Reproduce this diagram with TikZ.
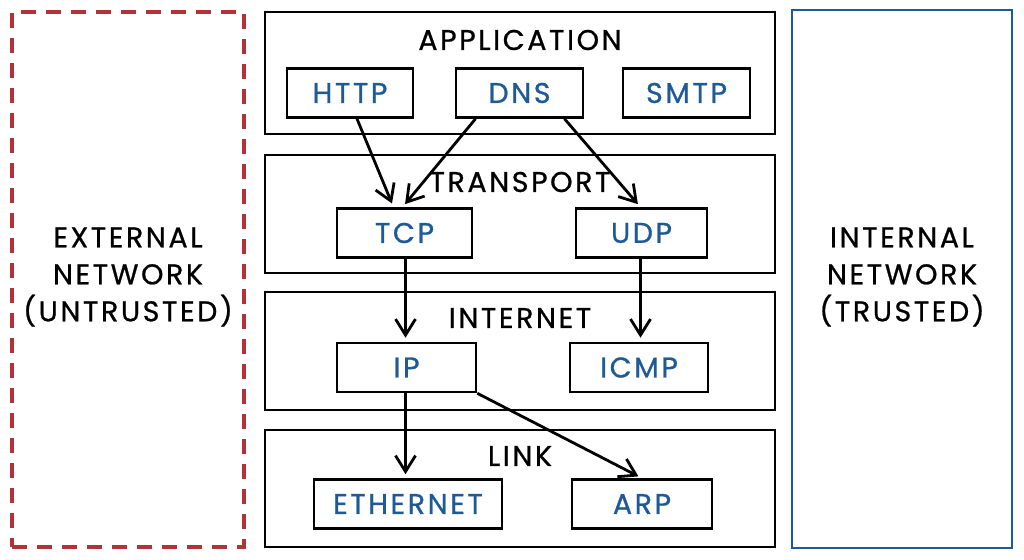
\documentclass[tikz,border=0pt]{standalone}
\usepackage{fontspec}
\setmainfont{Poppins}[FakeBold=0.8]
\usetikzlibrary{arrows.meta,positioning,calc}
\definecolor{netblue}{RGB}{30,90,150}
\definecolor{netred}{RGB}{180,50,55}
\newcommand{\labfont}{\fontsize{28.5}{37}\selectfont\addfontfeatures{LetterSpace=9}}
\tikzset{
  layerbox/.style={draw=black, line width=2.6pt, minimum width=510pt, inner sep=0pt},
  protobox/.style={draw=black, line width=2.6pt, minimum height=49pt, inner sep=0pt,
    text=netblue, font=\labfont},
  layertitle/.style={font=\labfont, inner sep=0pt},
  sidetext/.style={font=\labfont, align=center, inner sep=0pt},
  arr/.style={draw=black, line width=2.8pt, -{Straight Barb[length=16pt,width=20pt,line width=2.8pt]}, shorten >=4pt}
}
\begin{document}
\begin{tikzpicture}[x=1pt,y=-1pt]
\useasboundingbox (0,0) rectangle (1024,559);
% side zones
\node[draw=netred, line width=3.2pt, dash pattern=on 15pt off 10pt, minimum width=232pt, minimum height=535pt, inner sep=0pt] (ext) at (128,279.5) {};
\node[sidetext] (extlabel) at (128,277) {EXTERNAL\\NETWORK\\(UNTRUSTED)};
\node[draw=netblue, line width=2.8pt, minimum width=220pt, minimum height=538pt, inner sep=0pt] (int) at (902,279) {};
\node[sidetext] (intlabel) at (902,277) {INTERNAL\\NETWORK\\(TRUSTED)};
% layers
\node[layerbox, minimum height=122pt] (app) at (520,73) {};
\node[layertitle] (apptitle) at (520,40) {APPLICATION};
\node[layerbox, minimum height=118pt] (trans) at (520,214) {};
\node[layertitle] (transtitle) at (520,182) {TRANSPORT};
\node[layerbox, minimum height=118pt] (inet) at (520,351) {};
\node[layertitle] (inettitle) at (520,318) {INTERNET};
\node[layerbox, minimum height=117pt] (link) at (520,488.5) {};
\node[layertitle] (linktitle) at (520,456) {LINK};
% protocols
\node[protobox, minimum width=126pt] (http) at (350,93) {HTTP};
\node[protobox, minimum width=127pt] (dns) at (519.5,93) {DNS};
\node[protobox, minimum width=127pt] (smtp) at (686.5,93) {SMTP};
\node[protobox, minimum width=135pt] (tcp) at (404.5,233) {TCP};
\node[protobox, minimum width=131pt] (udp) at (641.5,233) {UDP};
\node[protobox, minimum width=139pt] (ip) at (406.5,367.5) {IP};
\node[protobox, minimum width=138pt] (icmp) at (639,367.5) {ICMP};
\node[protobox, minimum width=188pt] (eth) at (408,504) {ETHERNET};
\node[protobox, minimum width=140pt] (arp) at (642,504) {ARP};
% connectors
\draw[arr] ([xshift=7pt]http.south) -- ([xshift=-11pt]tcp.north);
\draw[arr] ([xshift=-44pt]dns.south) -- ([xshift=-2pt]tcp.north);
\draw[arr] ([xshift=45pt]dns.south) -- ([xshift=-1pt]udp.north);
\draw[arr] ([xshift=1pt]tcp.south) -- ([xshift=1pt]tcp.south |- ip.north);
\draw[arr] ([xshift=-1pt]udp.south) -- ([xshift=-1pt]udp.south |- icmp.north);
\draw[arr] ([xshift=-1pt]ip.south) -- ([xshift=-1pt]ip.south |- eth.north);
\draw[arr] (ip.south east) -- (arp.north);
\end{tikzpicture}
\end{document}
